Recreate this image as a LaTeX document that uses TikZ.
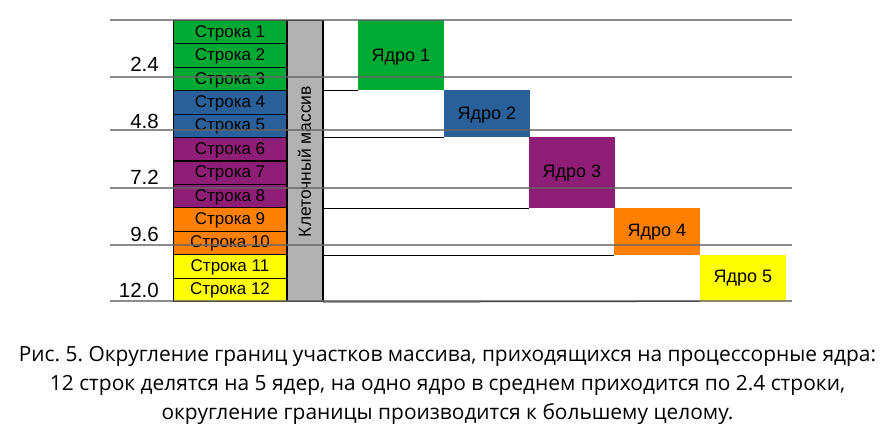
\documentclass[tikz,border=0pt]{standalone}
\usepackage{fontspec}
\setmainfont{Liberation Sans}
\newfontfamily\capfont{Open Sans}
\frenchspacing
\definecolor{cgreen}{HTML}{00A933}
\definecolor{cblue}{HTML}{2A6099}
\definecolor{cpurple}{HTML}{8D1D75}
\definecolor{corange}{HTML}{FF8000}
\definecolor{cyellow}{HTML}{FFFF00}
\definecolor{cgray}{HTML}{B2B2B2}
\definecolor{gline}{HTML}{666666}
\begin{document}
\begin{tikzpicture}[x=1pt,y=-1pt,
  rowbox/.style={draw=black,line width=1pt,minimum width=113pt,minimum height=23.4pt,inner sep=0pt,anchor=north west,font=\fontsize{17}{17}\selectfont,text depth=0pt,text height=10pt},
  corebox/.style={minimum width=86pt,inner sep=0pt,anchor=north west},
  coretxt/.style={font=\fontsize{18}{18}\selectfont,inner sep=0pt},
  gridline/.style={draw=gline,line width=2.2pt,opacity=0.75},
  blk/.style={draw=black,line width=1pt},
  numlab/.style={anchor=east,inner sep=0pt,font=\fontsize{20.5}{20}\selectfont}]
\useasboundingbox (0,0) rectangle (895,433);
% rows
\foreach \i/\c in {1/cgreen,2/cgreen,3/cgreen,4/cblue,5/cblue,6/cpurple,7/cpurple,8/cpurple,9/corange,10/corange,11/cyellow,12/cyellow}{
  \node[rowbox,fill=\c] (r\i) at (173,{20+(\i-1)*23.42}) {Строка \i};
}
% gray column
\node[draw=black,line width=1pt,fill=cgray,minimum width=35pt,minimum height=281pt,inner sep=0pt,anchor=north west] (col) at (287,20) {};
\node[rotate=90,font=\fontsize{17.5}{17}\selectfont,inner sep=0pt] (coltxt) at (304.5,161.5) {Клеточный массив};
% cores
\node[corebox,fill=cgreen,minimum height=70pt] (k1) at (358,20) {};
\node[coretxt] (k1t) at (401,57) {Ядро 1};
\node[corebox,fill=cblue,minimum height=47pt] (k2) at (444,90) {};
\node[coretxt] (k2t) at (487,115) {Ядро 2};
\node[corebox,fill=cpurple,minimum height=71pt] (k3) at (529,137) {};
\node[coretxt] (k3t) at (572,173) {Ядро 3};
\node[corebox,fill=corange,minimum height=47pt] (k4) at (614,208) {};
\node[coretxt] (k4t) at (657,232) {Ядро 4};
\node[corebox,fill=cyellow,minimum height=46pt] (k5) at (700,255) {};
\node[coretxt] (k5t) at (743,278) {Ядро 5};
% black boundary lines
\draw[blk] (col.north east) -- (col.south east);
\draw[blk] (col.east |- k1.south) -- (k1.south west);
\draw[blk] (col.east |- k2.south) -- (k2.south west);
\draw[blk] (col.east |- k3.south) -- (k3.south west);
\draw[blk] (col.east |- k4.south) -- (k4.south west);
\draw[blk] (col.south east) -- (k5.south west);
% gray grid lines
\coordinate (g0l) at (110,20); \coordinate (g0r) at (792,20);
\coordinate (g1l) at (110,77); \coordinate (g1r) at (792,77);
\coordinate (g2l) at (110,130); \coordinate (g2r) at (792,130);
\coordinate (g3l) at (110,188); \coordinate (g3r) at (792,188);
\coordinate (g4l) at (110,245); \coordinate (g4r) at (792,245);
\coordinate (g5l) at (110,301); \coordinate (g5r) at (792,301);
\foreach \j in {0,...,5}{\draw[gridline] (g\j l) -- (g\j r);}
% numbers
\node[numlab] (n1) at (159,64) {2.4};
\node[numlab] (n2) at (159,121) {4.8};
\node[numlab] (n3) at (159,177) {7.2};
\node[numlab] (n4) at (159,234) {9.6};
\node[numlab] (n5) at (159,290) {12.0};
% caption
\node[font=\capfont\fontsize{20.9}{29}\selectfont,align=center,inner sep=0pt,anchor=base] (cap) at (447.5,419) {Рис. 5. Округление границ участков массива, приходящихся на процессорные ядра:\\12 строк делятся на 5 ядер, на одно ядро в среднем приходится по 2.4 строки,\\округление границы производится к большему целому.};
\end{tikzpicture}
\end{document}
